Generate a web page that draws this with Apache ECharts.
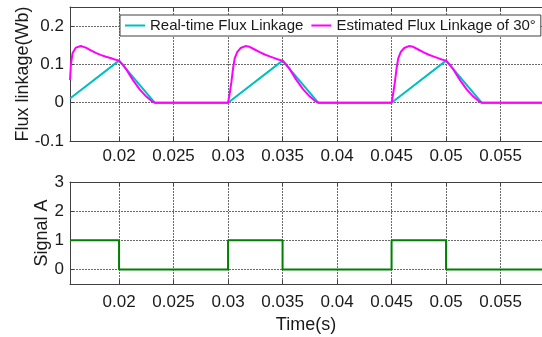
<!DOCTYPE html>
<html>
<head>
<meta charset="utf-8">
<script src="https://cdn.jsdelivr.net/npm/echarts@6/dist/echarts.min.js"></script>
<style>
  html, body { margin: 0; padding: 0; background: #ffffff; }
  #chart { width: 542px; height: 337px; }
</style>
</head>
<body>
<div id="chart"></div>
<script>
// Time window shown on both panels (s)
const timeMin = 0.0155;
const timeMax = 0.0588;

// Tick positions
const timeTicks = [0.02, 0.025, 0.03, 0.035, 0.04, 0.045, 0.05, 0.055];
const fluxTicks = [-0.1, 0, 0.1, 0.2];
const signalTicks = [0, 1, 2, 3];

// Real-time flux linkage (Wb)
const realTimeT = [0.0155, 0.02, 0.02327, 0.03, 0.035, 0.03827, 0.045, 0.05, 0.05327, 0.0588];
const realTimeV = [0.011, 0.11, 0, 0, 0.11, 0, 0, 0.11, 0, 0];

// Estimated flux linkage with 30 degree advance (Wb)
const estimatedT = [
  0.0155, 0.01558, 0.01573, 0.01604, 0.01649, 0.01695, 0.01741, 0.01787, 0.0183, 0.0188, 0.0193, 0.0197, 0.02,
  0.02037, 0.02067, 0.02128, 0.02189, 0.0225, 0.02296, 0.02327,
  0.03, 0.03015, 0.03031, 0.03046, 0.03061, 0.03085, 0.03116, 0.03159, 0.03198, 0.03244, 0.0329, 0.03336, 0.03382, 0.0342, 0.0346, 0.035,
  0.03537, 0.03567, 0.03628, 0.03689, 0.0375, 0.03796, 0.03827,
  0.045, 0.04515, 0.04531, 0.04546, 0.04561, 0.04585, 0.04616, 0.04659, 0.04698, 0.04744, 0.0479, 0.04836, 0.04882, 0.0492, 0.0496, 0.05,
  0.05037, 0.05067, 0.05128, 0.05189, 0.0525, 0.05296, 0.05327,
  0.0588
];
const estimatedV = [
  0.059, 0.098, 0.129, 0.144, 0.148, 0.144, 0.137, 0.130, 0.125, 0.120, 0.116, 0.112, 0.110,
  0.098, 0.087, 0.059, 0.035, 0.016, 0.005, 0,
  0, 0.024, 0.055, 0.090, 0.116, 0.133, 0.143, 0.148, 0.146, 0.139, 0.132, 0.126, 0.121, 0.117, 0.113, 0.110,
  0.098, 0.087, 0.059, 0.035, 0.016, 0.005, 0,
  0, 0.024, 0.055, 0.090, 0.116, 0.133, 0.143, 0.148, 0.146, 0.139, 0.132, 0.126, 0.121, 0.117, 0.113, 0.110,
  0.098, 0.087, 0.059, 0.035, 0.016, 0.005, 0,
  0
];

// Signal A (switching state)
const signalT = [0.0155, 0.02, 0.02, 0.03, 0.03, 0.035, 0.035, 0.045, 0.045, 0.05, 0.05, 0.0588];
const signalV = [1, 1, 0, 0, 1, 1, 0, 0, 1, 1, 0, 0];

const pairs = (xs, ys) => xs.map((x, i) => [x, ys[i]]);

const FONT = 'Liberation Sans, Arial, Helvetica, sans-serif';
const INK = '#1a1a1a';
const FRAME = '#404040';

function gridSplit() {
  return { show: true, lineStyle: { color: '#6a6a6a', type: [2, 1], width: 1 } };
}

function bottomTimeAxis(gridIndex, labelMargin, name) {
  return {
    type: 'value', gridIndex: gridIndex, position: 'bottom',
    min: timeMin, max: timeMax,
    name: name || '', nameLocation: 'middle', nameGap: 32, nameMoveOverlap: false,
    nameTextStyle: { fontFamily: FONT, fontSize: 18, color: INK },
    axisLine: { show: true, onZero: false, lineStyle: { color: FRAME, width: 1 } },
    axisTick: { show: true, inside: true, length: 4, customValues: timeTicks, lineStyle: { color: FRAME } },
    axisLabel: {
      show: true, customValues: timeTicks, margin: labelMargin,
      fontFamily: FONT, fontSize: 17, color: INK,
      formatter: v => String(v)
    },
    splitLine: gridSplit()
  };
}

function topTimeAxis(gridIndex) {
  return {
    type: 'value', gridIndex: gridIndex, position: 'top',
    min: timeMin, max: timeMax,
    axisLine: { show: true, onZero: false, lineStyle: { color: FRAME, width: 1 } },
    axisTick: { show: true, inside: true, length: 4, customValues: timeTicks, lineStyle: { color: FRAME } },
    axisLabel: { show: false },
    splitLine: { show: false }
  };
}

function leftAxis(gridIndex, min, max, ticks, name, nameGap) {
  return {
    type: 'value', gridIndex: gridIndex, position: 'left',
    min: min, max: max,
    name: name, nameLocation: 'middle', nameGap: nameGap, nameMoveOverlap: false,
    nameTextStyle: { fontFamily: FONT, fontSize: 18, color: INK },
    axisLine: { show: true, onZero: false, lineStyle: { color: FRAME, width: 1 } },
    axisTick: { show: true, inside: true, length: 4, customValues: ticks, lineStyle: { color: FRAME } },
    axisLabel: {
      show: true, customValues: ticks, margin: 6,
      fontFamily: FONT, fontSize: 17, color: INK,
      formatter: v => String(v)
    },
    splitLine: gridSplit()
  };
}

const chart = echarts.init(document.getElementById('chart'), null, { renderer: 'canvas' });

chart.setOption({
  animation: false,
  backgroundColor: '#ffffff',
  grid: [
    { left: 70, right: 0, top: 7, height: 134, show: false },
    { left: 70, right: 0, top: 182, height: 102, show: false }
  ],
  xAxis: [
    bottomTimeAxis(0, 7, ''),
    bottomTimeAxis(1, 10, 'Time(s)'),
    topTimeAxis(0),
    topTimeAxis(1)
  ],
  yAxis: [
    leftAxis(0, -0.1, 0.25, fluxTicks, 'Flux linkage(Wb)', 38),
    leftAxis(1, -0.5, 3, signalTicks, 'Signal A', 19)
  ],
  legend: {
    data: ['Real-time Flux Linkage', 'Estimated Flux Linkage of 30°'],
    left: 120, top: 15,
    orient: 'horizontal',
    backgroundColor: '#ffffff',
    borderColor: FRAME, borderWidth: 1,
    padding: [3, 5, 3, 5],
    icon: 'rect', itemWidth: 20, itemHeight: 2, itemGap: 8,
    textStyle: { fontFamily: FONT, fontSize: 15, color: INK }
  },
  series: [
    {
      name: 'Real-time Flux Linkage', type: 'line',
      xAxisIndex: 0, yAxisIndex: 0,
      data: pairs(realTimeT, realTimeV),
      showSymbol: false, symbol: 'none',
      lineStyle: { color: '#00BFBF', width: 2 },
      itemStyle: { color: '#00BFBF' },
      z: 3
    },
    {
      name: 'Estimated Flux Linkage of 30°', type: 'line',
      xAxisIndex: 0, yAxisIndex: 0,
      data: pairs(estimatedT, estimatedV),
      showSymbol: false, symbol: 'none',
      lineStyle: { color: '#FF00FF', width: 2 },
      itemStyle: { color: '#FF00FF' },
      z: 4
    },
    {
      name: 'Signal A', type: 'line',
      xAxisIndex: 1, yAxisIndex: 1,
      data: pairs(signalT, signalV),
      showSymbol: false, symbol: 'none',
      lineStyle: { color: '#008000', width: 2 },
      itemStyle: { color: '#008000' },
      z: 3
    }
  ]
});
</script>
</body>
</html>
